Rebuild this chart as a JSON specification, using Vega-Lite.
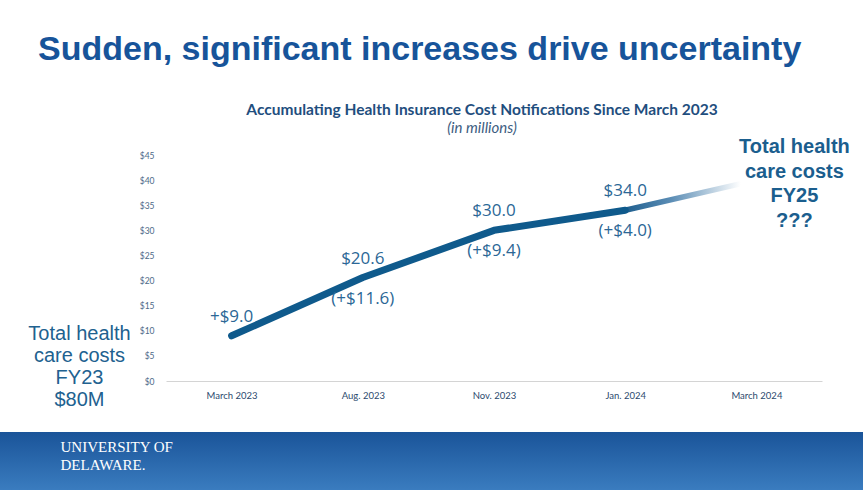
{
  "$schema": "https://vega.github.io/schema/vega-lite/v6.json",
  "background": "white",
  "padding": {"left": 0, "right": 0, "top": 32, "bottom": 0},
  "config": {"view": {"stroke": null}},
  "title": {"text": "Sudden, significant increases drive uncertainty", "anchor": "start", "dx": 38, "font": "Liberation Sans", "fontSize": 34, "fontWeight": "bold", "color": "#17549a", "offset": 36},
  "datasets": {
    "actual": [
      {"month": "March 2023", "total": 9.0, "top_label": "+$9.0", "bottom_label": ""},
      {"month": "Aug. 2023", "total": 20.6, "top_label": "$20.6", "bottom_label": "(+$11.6)"},
      {"month": "Nov. 2023", "total": 30.0, "top_label": "$30.0", "bottom_label": "(+$9.4)"},
      {"month": "Jan. 2024", "total": 34.0, "top_label": "$34.0", "bottom_label": "(+$4.0)"}
    ],
    "projection": [
      {"month": "Jan. 2024", "total": 34.0, "note": ""},
      {"month": "March 2024", "total": 40.0, "note": "Total health\ncare costs\nFY25\n???"}
    ]
  },
  "spacing": 22,
  "vconcat": [
    {
      "spacing": 0,
      "hconcat": [
        {
          "width": 139,
          "height": 226,
          "data": {"values": [{"label": "Total health\ncare costs\nFY23\n$80M"}]},
          "mark": {"type": "text", "lineBreak": "\n", "font": "Liberation Sans", "fontSize": 20, "lineHeight": 22, "color": "#21618f", "align": "center", "baseline": "middle", "dx": 10, "dy": 66},
          "encoding": {"text": {"field": "label", "type": "nominal"}}
        },
        {
          "width": 656,
          "height": 226,
          "title": {"text": "Accumulating Health Insurance Cost Notifications Since March 2023", "subtitle": "(in millions)", "font": "Lato", "fontSize": 15.5, "fontWeight": "bold", "color": "#1f4e7e", "subtitleFont": "Lato", "subtitleFontSize": 15, "subtitleFontStyle": "italic", "subtitleColor": "#3d5d7f", "subtitlePadding": 3, "anchor": "middle", "dx": -12, "offset": 1},
          "encoding": {
            "x": {"field": "month", "type": "ordinal", "sort": null,
                  "scale": {"type": "point", "padding": 0.5, "domain": ["March 2023", "Aug. 2023", "Nov. 2023", "Jan. 2024", "March 2024"]},
                  "axis": {"title": null, "labelAngle": 0, "ticks": false, "domain": true, "domainColor": "#d4d4d4", "labelFont": "Lato", "labelFontSize": 9.5, "labelColor": "#2c4a6e", "labelPadding": 9, "grid": false}},
            "y": {"field": "total", "type": "quantitative",
                  "scale": {"domain": [0, 45], "nice": false},
                  "axis": {"title": null, "values": [0, 5, 10, 15, 20, 25, 30, 35, 40, 45], "labelExpr": "'$' + datum.value", "labelFont": "Lato", "labelFontSize": 8.5, "labelColor": "#4d6a88", "ticks": false, "domain": false, "grid": false, "labelPadding": 12}}
          },
          "layer": [
            {
              "data": {"name": "projection"},
              "mark": {"type": "line", "strokeWidth": 5.5, "strokeCap": "round",
                       "color": {"gradient": "linear", "x1": 0, "y1": 0, "x2": 1, "y2": 0, "stops": [{"offset": 0, "color": "#1f5f8f"}, {"offset": 0.35, "color": "#5b8db5"}, {"offset": 0.88, "color": "#ffffff"}]}}
            },
            {
              "data": {"name": "actual"},
              "mark": {"type": "line", "strokeWidth": 7, "strokeCap": "round", "strokeJoin": "round", "color": "#0f5a8c"}
            },
            {
              "data": {"name": "actual"},
              "mark": {"type": "text", "font": "Open Sans", "fontSize": 17, "color": "#2b6796", "dy": -19},
              "encoding": {"text": {"field": "top_label", "type": "nominal"}}
            },
            {
              "data": {"name": "actual"},
              "mark": {"type": "text", "font": "Open Sans", "fontSize": 17, "color": "#2b6796", "dy": 21},
              "encoding": {"text": {"field": "bottom_label", "type": "nominal"}}
            },
            {
              "data": {"name": "projection"},
              "mark": {"type": "text", "lineBreak": "\n", "font": "Liberation Sans", "fontSize": 20, "fontWeight": "bold", "lineHeight": 24.5, "color": "#1b5e8e", "align": "center", "baseline": "middle", "dx": 38, "dy": -33},
              "encoding": {"text": {"field": "note", "type": "nominal"}}
            }
          ]
        }
      ]
    },
    {
      "width": 863,
      "height": 58,
      "view": {"stroke": null, "fill": {"gradient": "linear", "x1": 0, "y1": 0, "x2": 0, "y2": 1, "stops": [{"offset": 0, "color": "#1a5499"}, {"offset": 1, "color": "#3a7cbf"}]}},
      "data": {"values": [{"logo": "UNIVERSITY OF\nDELAWARE."}]},
      "mark": {"type": "text", "lineBreak": "\n", "font": "Liberation Serif", "fontSize": 15, "lineHeight": 18, "color": "white", "align": "left", "baseline": "middle", "dx": -371, "dy": -14},
      "encoding": {"text": {"field": "logo", "type": "nominal"}}
    }
  ]
}
